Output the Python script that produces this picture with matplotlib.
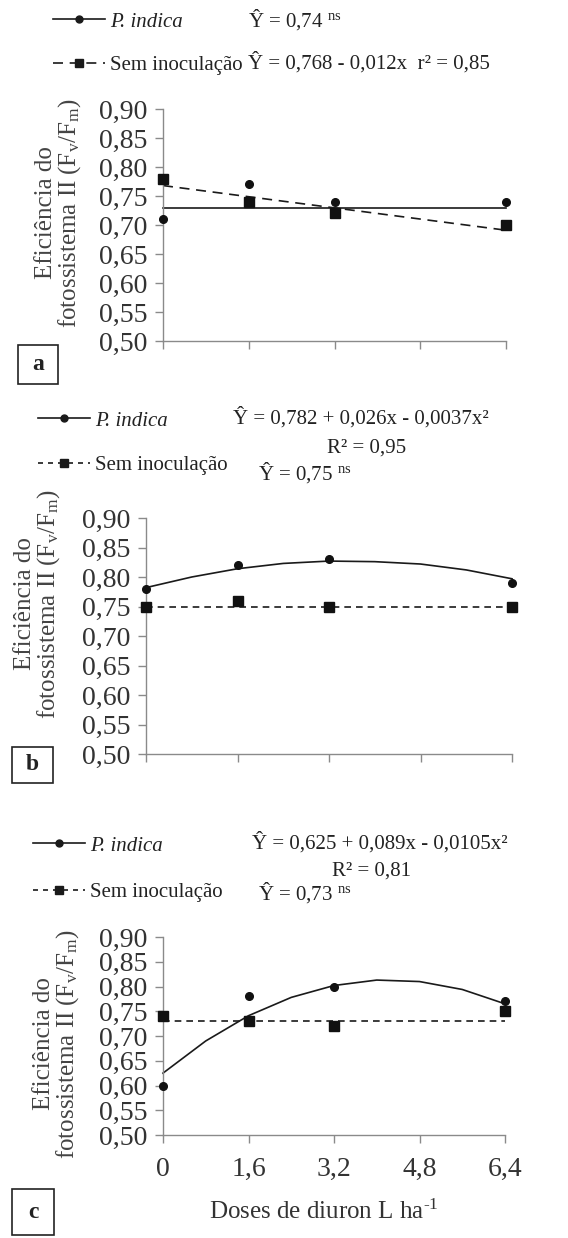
import matplotlib
matplotlib.use('Agg')
from matplotlib import pyplot as plt
from matplotlib.lines import Line2D
from matplotlib.patches import Rectangle

plt.rcParams['font.family'] = ['Liberation Serif', 'DejaVu Serif']
plt.rcParams['mathtext.fontset'] = 'custom'
plt.rcParams['mathtext.rm'] = 'Liberation Serif'
plt.rcParams['mathtext.it'] = 'Liberation Serif:italic'

# doses de diuron (L/ha)
doses = [0, 1.6, 3.2, 6.4]
x_ticks = [0, 1.6, 3.2, 4.8, 6.4]
x_ticklabels = ['0', '1,6', '3,2', '4,8', '6,4']
y_ticks = [0.50, 0.55, 0.60, 0.65, 0.70, 0.75, 0.80, 0.85, 0.90]

# painel a
a_indica = [0.71, 0.77, 0.74, 0.74]
a_semin = [0.78, 0.74, 0.72, 0.70]
a_indica_fit_x = [0, 6.4]
a_indica_fit_y = [0.73, 0.73]
a_semin_fit_x = [0, 6.4]
a_semin_fit_y = [0.768, 0.691]

# painel b
b_indica = [0.78, 0.82, 0.83, 0.79]
b_semin = [0.75, 0.76, 0.75, 0.75]
curve_x = [0, 0.8, 1.6, 2.4, 3.2, 4.0, 4.8, 5.6, 6.4]
b_indica_fit_y = [0.782, 0.800, 0.814, 0.823, 0.827, 0.826, 0.822, 0.812, 0.797]
b_semin_fit_x = [0, 6.4]
b_semin_fit_y = [0.75, 0.75]

# painel c
c_indica = [0.60, 0.78, 0.80, 0.77]
c_semin = [0.74, 0.73, 0.72, 0.75]
c_indica_fit_y = [0.625, 0.690, 0.741, 0.778, 0.802, 0.813, 0.810, 0.794, 0.765]
c_semin_fit_x = [0, 6.4]
c_semin_fit_y = [0.73, 0.73]

W, H = 568, 1238
fig = plt.figure(figsize=(W / 100, H / 100), dpi=100)


def fx(px):
    return px / W


def fy(py):
    return 1 - py / H


def make_axes(left, top, right, bottom):
    return fig.add_axes([fx(left), fy(bottom), fx(right - left), (bottom - top) / H])


def style(ax, show_xlabels):
    ax.set_xlim(0, 6.4)
    ax.set_ylim(0.50, 0.90)
    for s in ['top', 'right']:
        ax.spines[s].set_visible(False)
    for s in ['left', 'bottom']:
        ax.spines[s].set_color('#8a8a8a')
        ax.spines[s].set_linewidth(1.0)
    ax.set_yticks(y_ticks)
    ax.set_yticklabels([f'{v:.2f}'.replace('.', ',') for v in y_ticks])
    ax.set_xticks(x_ticks)
    if show_xlabels:
        ax.set_xticklabels(x_ticklabels)
    else:
        ax.set_xticklabels([])
    ax.tick_params(axis='both', direction='out', color='#8a8a8a', length=6, width=1.0,
                   labelsize=20, labelcolor='#333333')
    ax.tick_params(axis='y', pad=5)
    ax.tick_params(axis='x', pad=10)
    ax.set_facecolor('none')


def panel(ax, ind, sem, ind_fx, ind_fy, sem_fx, sem_fy, dash):
    ax.plot(ind_fx, ind_fy, color='#1a1a1a', linewidth=1.2, clip_on=False)
    ax.plot(sem_fx, sem_fy, color='#1a1a1a', linewidth=1.2, linestyle=(0, dash), clip_on=False)
    ax.plot(doses, ind, 'o', color='#111111', markersize=5.5, clip_on=False, zorder=5)
    ax.plot(doses, sem, 's', color='#111111', markersize=6.5, clip_on=False, zorder=5)


def legend(ax, x, y, spacing, dash):
    h1 = Line2D([], [], color='#1a1a1a', linewidth=1.2, marker='o', markersize=5)
    h2 = Line2D([], [], color='#1a1a1a', linewidth=1.2, linestyle=(0, dash), marker='s', markersize=6)
    leg = fig.legend([h1, h2], ['P. indica', 'Sem inoculação'], loc='upper left',
                     bbox_to_anchor=(fx(x), fy(y)), frameon=False, fontsize=15,
                     handlelength=2.5, handletextpad=0.25, borderpad=0, borderaxespad=0,
                     labelspacing=spacing)
    leg.get_texts()[0].set_fontstyle('italic')
    for t in leg.get_texts():
        t.set_color('#222222')
    return leg


def ylabel(xc, yc):
    fig.text(fx(xc), fy(yc), 'Eficiência do\nfotossistema II (F$_\\mathrm{v}$/F$_\\mathrm{m}$)',
             rotation=90, ha='center', va='center', multialignment='center',
             fontsize=18, color='#444444', linespacing=1.0)


def letter_box(l, t, r, b, s):
    fig.add_artist(Rectangle((fx(l), fy(b)), fx(r - l), (b - t) / H, transform=fig.transFigure,
                             fill=False, edgecolor='#222222', linewidth=1.2))
    fig.text(fx((l + r) / 2), fy((t + b) / 2), s, ha='center', va='center',
             fontsize=17, fontweight='bold', color='#222222')


def eq(x, y, s, ha='left'):
    fig.text(fx(x), fy(y), s, ha=ha, va='center', fontsize=15, color='#222222')


NS = ' $^{\\mathrm{ns}}$'

# ---- a ----
ax_a = make_axes(163, 109, 506, 341)
style(ax_a, False)
panel(ax_a, a_indica, a_semin, a_indica_fit_x, a_indica_fit_y, a_semin_fit_x, a_semin_fit_y, (6, 4))
legend(ax_a, 53, 12, 1.14, (6, 4))
eq(248, 20, 'Ŷ = 0,74' + NS)
eq(248, 63, 'Ŷ = 0,768 - 0,012x  r² = 0,85')
ylabel(59, 213)
letter_box(18, 345, 58, 384, 'a')

# ---- b ----
ax_b = make_axes(146, 518, 512, 754)
style(ax_b, False)
panel(ax_b, b_indica, b_semin, curve_x, b_indica_fit_y, b_semin_fit_x, b_semin_fit_y, (4, 3))
legend(ax_b, 38, 411, 1.19, (3, 3))
eq(233, 418, 'Ŷ = 0,782 + 0,026x - 0,0037x²')
eq(367, 448, 'R² = 0,95', ha='center')
eq(258, 473, 'Ŷ = 0,75' + NS)
ylabel(38, 604)
letter_box(12, 747, 53, 783, 'b')

# ---- c ----
ax_c = make_axes(163, 937, 505, 1135)
style(ax_c, True)
panel(ax_c, c_indica, c_semin, curve_x, c_indica_fit_y, c_semin_fit_x, c_semin_fit_y, (4, 3))
legend(ax_c, 33, 836, 1.29, (3, 3))
eq(252, 843, 'Ŷ = 0,625 + 0,089x - 0,0105x²')
eq(371, 871, 'R² = 0,81', ha='center')
eq(258, 893, 'Ŷ = 0,73' + NS)
ylabel(57, 1044)
letter_box(12, 1189, 54, 1235, 'c')
fig.text(fx(324), fy(1212), 'Doses de diuron L ha$^{\\text{-1}}$', ha='center', va='center',
         fontsize=18, color='#333333')

fig.savefig('out.png', dpi=100)
